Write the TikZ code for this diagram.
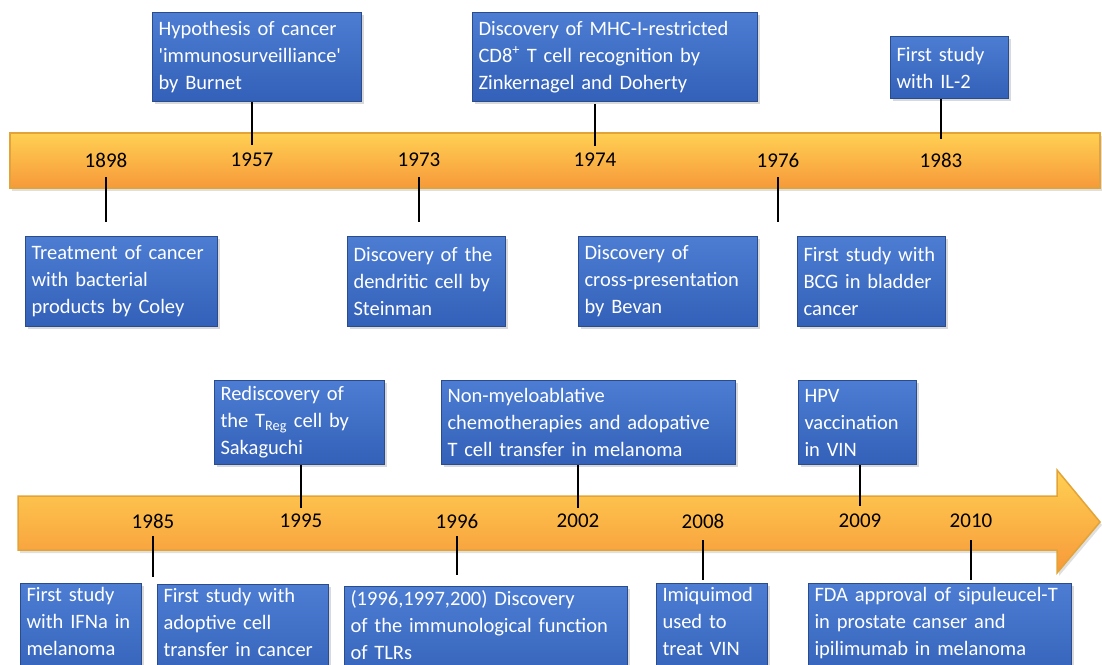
\documentclass[tikz,border=0pt]{standalone}
\usepackage{fontspec}
\setmainfont{Carlito}
\usetikzlibrary{shadows}
\definecolor{boxtop}{HTML}{4C7DD3}
\definecolor{boxbot}{HTML}{3360B8}
\definecolor{boxedge}{HTML}{2A4C8C}
\definecolor{bandtop}{HTML}{FFD052}
\definecolor{bandmid}{HTML}{FFB247}
\definecolor{bandbot}{HTML}{F7993A}
\definecolor{bandedge}{HTML}{E2A438}
\begin{document}
\begin{tikzpicture}[
      x=1pt, y=-1pt,
      stem/.style={line width=2pt, draw=black},
      evt/.style={rectangle, anchor=north west, draw=boxedge, line width=1pt,
        top color=boxtop, bottom color=boxbot, text=white, align=left,
        inner xsep=6pt, inner ysep=4pt,
        font=\fontsize{20.5}{27}\selectfont,
        drop shadow={opacity=0.3, shadow xshift=2pt, shadow yshift=-2pt}},
      year/.style={font=\fontsize{21}{24}\selectfont, inner sep=2pt},
      band/.style={draw=bandedge, line width=1.5pt, top color=bandtop,
        middle color=bandmid, bottom color=bandbot,
        drop shadow={opacity=0.25, shadow xshift=2pt, shadow yshift=-3pt}}
    ]
    \useasboundingbox (0,0) rectangle (1102,664);
    \clip (0,0) rectangle (1102,664);
    % the two time bands
    \path[band] (10,133) rectangle (1100,188);
    \path[band] (18,496) -- (1057,496) -- (1057,470) -- (1100,522)
      -- (1057,573) -- (1057,550) -- (18,550) -- cycle;
    % years
    \path (106,160) node(y1898) [year] {1898}
    (252,160) node(y1957) [year] {1957}
    (419,160) node(y1973) [year] {1973}
    (595,160) node(y1974) [year] {1974}
    (778,160) node(y1976) [year] {1976}
    (941,160) node(y1983) [year] {1983}
    (153,521) node(y1985) [year] {1985}
    (301,521) node(y1995) [year] {1995}
    (457,521) node(y1996) [year] {1996}
    (578,521) node(y2002) [year] {2002}
    (703,521) node(y2008) [year] {2008}
    (860,521) node(y2009) [year] {2009}
    (971,521) node(y2010) [year] {2010};
    % events, first band
    \path (152,12) node(burnet) [evt, text width=197pt, minimum height=89]
      {Hypothesis of cancer\\ \textquotesingle immunosurveilliance\textquotesingle\\ by Burnet}
    (472,12) node(mhc) [evt, text width=273pt, minimum height=89]
      {Discovery of MHC-I-restricted\\ CD8\textsuperscript{+} T cell recognition by\\ Zinkernagel and Doherty}
    (890,36) node(il2) [evt, text width=106pt, minimum height=62]
      {First study\\ with IL-2}
    (25,236) node(coley) [evt, text width=180pt, minimum height=90]
      {Treatment of cancer\\ with bacterial\\ products by Coley}
    (347,236) node(steinman) [evt, text width=146pt, minimum height=90]
      {Discovery of the\\ dendritic cell by\\ Steinman}
    (578,236) node(bevan) [evt, text width=167pt, minimum height=90]
      {Discovery of\\ cross-presentation\\ by Bevan}
    (797,236) node(bcg) [evt, text width=136pt, minimum height=90]
      {First study with\\ BCG in bladder\\ cancer};
    % events, second band
    \path (214,380) node(sakaguchi) [evt, text width=158pt, minimum height=84]
      {Rediscovery of\\ the T\textsubscript{Reg} cell by\\ Sakaguchi}
    (441,380) node(nonmyelo) [evt, text width=282pt, minimum height=84]
      {Non-myeloablative\\ chemotherapies and adopative\\ T cell transfer in melanoma}
    (798,380) node(hpv) [evt, text width=106pt, minimum height=84]
      {HPV\\ vaccination\\ in VIN}
    (20,583) node(ifna) [evt, text width=109pt]
      {First study\\ with IFNa in\\ melanoma\\ \mbox{}}
    (157,584) node(adoptive) [evt, text width=159pt]
      {First study with\\ adoptive cell\\ transfer in cancer\\ \mbox{}}
    (344,586) node(tlrs) [evt, text width=271pt]
      {(1996,1997,200) Discovery\\ of the immunological function\\ of TLRs\\ \mbox{}}
    (656,583) node(imiquimod) [evt, text width=99pt]
      {Imiquimod\\ used to\\ treat VIN\\ \mbox{}}
    (808,583) node(fda) [evt, text width=251pt]
      {FDA approval of sipuleucel-T\\ in prostate canser and\\ ipilimumab in melanoma\\ \mbox{}};
    % stems above the bands
    \draw[stem, shorten >=6pt] (burnet.south -| y1957) -- (y1957.north);
    \draw[stem, shorten <=2pt, shorten >=5pt] (mhc.south -| y1974) -- (y1974.north);
    \draw[stem, shorten >=12pt] (il2.south -| y1983) -- (y1983.north);
    \draw[stem, shorten >=4pt] (sakaguchi.south -| y1995) -- (y1995.north);
    \draw[stem, shorten >=4pt] (nonmyelo.south -| y2002) -- (y2002.north);
    \draw[stem, shorten >=6pt] (hpv.south -| y2009) -- (y2009.north);
    % stems below the bands
    \draw[stem, shorten <=8pt, shorten >=14pt] (y1898.south) -- (y1898.south |- coley.north);
    \draw[stem, shorten <=8pt, shorten >=14pt] (y1973.south) -- (y1973.south |- steinman.north);
    \draw[stem, shorten <=8pt, shorten >=14pt] (y1976.south) -- (y1976.south |- bcg.north);
    \draw[stem, shorten <=6pt, shorten >=6pt] (y1985.south) -- (y1985.south |- ifna.north);
    \draw[stem, shorten <=6pt, shorten >=11pt] (y1996.south) -- (y1996.south |- tlrs.north);
    \draw[stem, shorten <=10pt, shorten >=3pt] (y2008.south) -- (y2008.south |- imiquimod.north);
    \draw[stem, shorten <=10pt, shorten >=3pt] (y2010.south) -- (y2010.south |- fda.north);
  \end{tikzpicture}
\end{document}
